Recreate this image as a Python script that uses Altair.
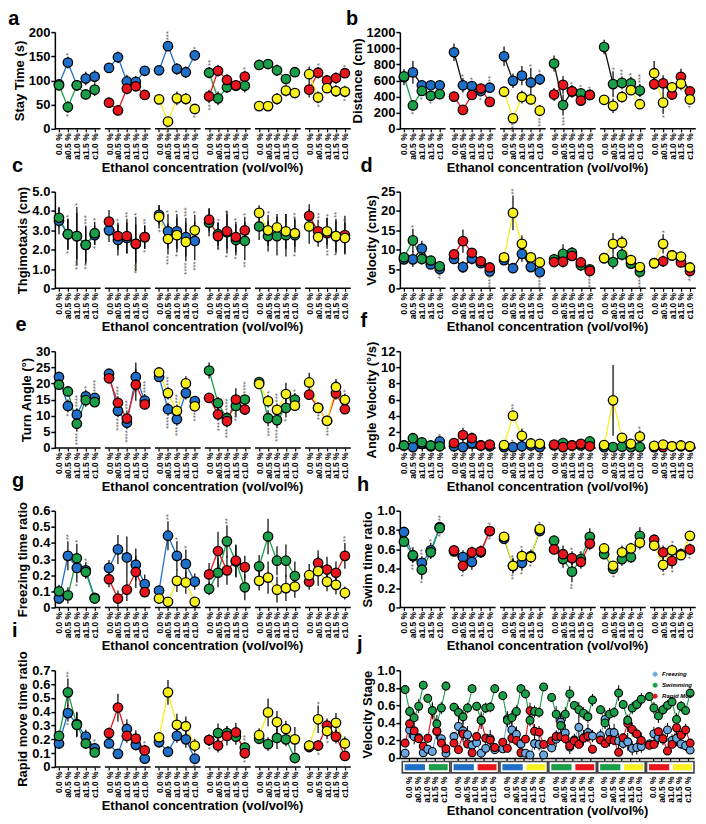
import altair as alt
import pandas as pd

FONT = "Liberation Sans"
CONC = ["0.0 %", "a0.5 %", "a1.0 %", "a1.5 %", "c1.0 %"]
COLORS = {"Blue": "#1f6fc9", "Green": "#1a9e48", "Red": "#e8161c", "Yellow": "#f7f01c"}
PAIRS = [("Blue", "Green"), ("Blue", "Red"), ("Blue", "Yellow"),
         ("Green", "Red"), ("Green", "Yellow"), ("Red", "Yellow")]
STAGES = ["Freezing", "Swimming", "Rapid Mov"]
STAGE_COLORS = ["#6aa6e0", "#1a9e48", "#e8161c"]
XTITLE = "Ethanol concentration (vol/vol%)"

# ---- a: Stay Time (s)
stay_1 = [92, 137, 90, 104, 108, 126, 148, 98, 97, 120, 121, 171, 124, 117, 152,
          116, 63, 86, 89, 89, 132, 134, 121, 103, 117, 81, 116, 100, 105, 115]
stay_2 = [90, 45, 90, 71, 81, 54, 38, 83, 88, 70, 61, 15, 63, 62, 41,
          67, 120, 101, 90, 108, 47, 47, 62, 79, 74, 113, 65, 84, 78, 77]
stay_e1 = [8, 12, 10, 14, 13, 10, 12, 14, 12, 10, 8, 10, 12, 12, 10,
           12, 14, 12, 10, 14, 8, 10, 12, 10, 10, 16, 12, 10, 12, 10]
stay_e2 = [10, 12, 10, 10, 13, 10, 10, 12, 10, 10, 8, 8, 14, 12, 10,
           14, 12, 12, 10, 12, 6, 8, 12, 12, 10, 16, 12, 10, 12, 12]
stars_a = [(1, 0, "*", "u"), (1, 1, "*", "d"), (11, 0, "***", "u"), (11, 1, "***", "d"),
           (14, 0, "*", "u"), (14, 1, "*", "d"), (15, 0, "**", "u"), (15, 1, "**", "d"),
           (19, 1, "*", "u"), (26, 0, "*", "u"), (26, 1, "*", "d"), (29, 0, "*", "u"), (29, 1, "*", "d")]

# ---- b: Distance (cm)
dist_1 = [640, 700, 540, 540, 540, 950, 540, 530, 470, 510, 900, 595, 660, 575, 615,
          810, 295, 465, 440, 420, 1015, 555, 570, 565, 475, 555, 565, 425, 645, 465]
dist_2 = [650, 290, 470, 410, 430, 400, 235, 420, 500, 335, 460, 130, 395, 365, 225,
          425, 545, 465, 350, 420, 360, 285, 395, 480, 305, 690, 325, 515, 560, 365]
dist_e1 = [100, 140, 60, 50, 60, 110, 90, 60, 60, 60, 120, 90, 120, 180, 70,
           100, 130, 80, 60, 60, 90, 160, 80, 80, 80, 70, 100, 60, 100, 50]
dist_e2 = [60, 60, 60, 50, 60, 60, 60, 60, 60, 50, 40, 40, 80, 60, 70,
           80, 110, 70, 60, 60, 40, 90, 70, 60, 60, 150, 140, 60, 80, 60]
stars_b = [(1, 1, "*", "d"), (2, 1, "*", "d"), (3, 1, "*", "d"), (6, 0, "*", "u"), (7, 0, "*", "u"),
           (8, 1, "**", "d"), (9, 0, "**", "u"), (11, 1, "***", "d"), (13, 0, "*", "u"), (14, 0, "*", "u"),
           (14, 1, "***", "d"), (16, 0, "***", "d"), (17, 1, "*", "u"), (18, 0, "*", "u"), (19, 1, "*", "u"),
           (21, 0, "*", "u"), (22, 0, "**", "u"), (23, 0, "*", "u"), (24, 0, "***", "u"),
           (26, 1, "*", "d"), (29, 1, "*", "d")]

# ---- c: Thgimotaxis (cm)
thig_1 = [3.5, 2.8, 2.7, 2.25, 2.75, 3.0, 2.5, 2.6, 2.3, 2.65, 3.8, 2.95, 2.95, 2.65, 2.45,
          3.4, 2.8, 2.9, 2.5, 2.45, 3.2, 2.7, 2.7, 2.75, 2.75, 3.75, 2.95, 2.85, 2.7, 2.75]
thig_2 = [3.65, 2.8, 2.7, 2.25, 2.85, 3.45, 2.7, 2.7, 2.3, 2.65, 3.7, 2.55, 2.75, 2.4, 3.0,
          3.55, 2.7, 2.95, 2.65, 3.0, 3.9, 3.0, 3.15, 2.95, 2.85, 3.2, 2.65, 2.95, 2.7, 2.6]
thig_e1 = [0.7, 0.8, 1.2, 0.9, 0.5, 0.6, 0.8, 0.8, 1.0, 0.6, 0.5, 0.9, 0.9, 1.0, 1.0,
           0.7, 0.6, 1.1, 0.8, 1.0, 0.7, 0.8, 1.0, 1.1, 0.9, 0.6, 0.6, 0.8, 0.8, 1.0]
thig_e2 = [0.5, 0.8, 1.5, 1.0, 0.6, 0.6, 0.7, 0.9, 1.4, 0.6, 0.6, 0.8, 0.9, 1.0, 0.8,
           0.6, 0.7, 0.9, 0.8, 0.7, 0.4, 0.8, 0.7, 0.9, 0.7, 0.9, 0.5, 0.7, 0.9, 0.8]
stars_c = [(1, 1, "*", "u"), (1, 0, "*", "d"), (2, 1, "*", "u"), (2, 0, "***", "d"), (3, 1, "***", "u"),
           (3, 0, "**", "d"), (4, 1, "*", "u"), (4, 0, "*", "d"), (6, 1, "*", "u"), (7, 1, "**", "u"),
           (8, 1, "*", "u"), (8, 0, "***", "d"), (9, 1, "**", "u"), (9, 0, "*", "d"), (10, 1, "*", "d"),
           (11, 0, "*", "u"), (11, 1, "***", "d"), (12, 0, "*", "u"), (12, 1, "*", "d"), (13, 0, "***", "u"),
           (13, 1, "****", "d"), (14, 1, "*", "u"), (14, 0, "***", "d"), (16, 1, "*", "u"), (16, 0, "*", "d"),
           (17, 1, "*", "u"), (17, 0, "*", "d"), (18, 1, "*", "u"), (18, 0, "*", "d"), (19, 1, "*", "u"),
           (19, 0, "**", "d"), (21, 1, "*", "u"), (24, 1, "**", "u"), (24, 0, "*", "d"), (26, 0, "**", "u"),
           (27, 1, "*", "u"), (27, 0, "**", "d"), (28, 1, "**", "u"), (28, 0, "*", "d"), (29, 1, "*", "u")]

# ---- d: Velocity (cm/s)
vel_1 = [7.5, 7.5, 10.3, 6.2, 5.0, 7.6, 5.5, 7.7, 6.5, 4.4, 7.3, 5.2, 8.9, 5.5, 4.2,
         7.5, 8.9, 9.2, 6.0, 4.9, 7.8, 6.8, 8.7, 6.4, 4.3, 6.5, 7.0, 8.5, 6.7, 4.5]
vel_2 = [8.0, 12.4, 7.6, 7.2, 5.7, 8.8, 12.2, 9.2, 7.0, 5.4, 8.0, 19.5, 11.5, 8.0, 6.7,
         6.8, 6.9, 8.4, 6.7, 4.5, 7.8, 11.5, 11.8, 7.3, 5.5, 6.5, 11.5, 8.5, 8.2, 5.4]
vel_e1 = [1.0, 2.0, 2.0, 1.0, 0.8, 1.0, 1.5, 1.5, 1.0, 0.8, 1.0, 1.0, 2.0, 1.0, 0.8,
          1.0, 2.5, 1.5, 1.5, 0.8, 1.0, 1.8, 1.5, 1.0, 0.8, 0.8, 1.5, 1.2, 1.0, 0.8]
vel_e2 = [1.0, 3.0, 1.5, 1.0, 0.8, 1.2, 3.0, 1.2, 0.8, 0.8, 1.2, 4.5, 2.2, 1.0, 0.8,
          1.0, 1.5, 1.2, 1.2, 0.8, 1.0, 2.8, 1.8, 1.2, 1.0, 0.8, 2.5, 1.0, 1.0, 0.8]
stars_d = [(1, 1, "*", "u"), (4, 0, "**", "d"), (9, 0, "****", "d"), (11, 1, "**", "u"),
           (14, 0, "****", "d"), (19, 1, "****", "d"), (24, 0, "****", "d"), (26, 1, "*", "u"),
           (29, 0, "**", "d")]

# ---- e: Turn Angle
turn_1 = [22, 13, 10.3, 16, 15.5, 23, 11.5, 7.8, 22, 14.7, 22, 12, 8.9, 17, 14.5,
          24, 13.9, 9.2, 13, 15, 20.4, 9.2, 8.6, 12.4, 15, 16.5, 12.4, 8.4, 16.9, 12.0]
turn_2 = [19.6, 17.5, 7.5, 14.8, 14.2, 21.6, 14, 9.1, 19.6, 13.5, 23.4, 17, 11.5, 20, 12.9,
          15.5, 10.4, 8.3, 15, 11.9, 19.8, 14.5, 11.8, 16.7, 13.1, 20.3, 12.4, 8.4, 18.9, 14.9]
turn_e1 = [1.5, 2, 2, 2, 1.5, 1.5, 2, 2, 4.5, 2, 1.5, 2, 2, 2, 1.5,
           2.5, 2, 2, 3.5, 1.5, 1, 2.5, 2.5, 3, 2, 1.5, 1.5, 1.5, 2, 1.5]
turn_e2 = [1.5, 1.5, 2.5, 2, 1.5, 1.5, 2, 2.5, 5, 1.5, 1.5, 2, 2, 2.2, 1.5,
           1.5, 2, 2, 3.5, 1.5, 1.2, 2, 2, 3.5, 1.5, 3, 1.5, 1.5, 2.5, 2]
stars_e = [(1, 0, "*", "d"), (2, 0, "****", "u"), (2, 1, "****", "d"), (3, 0, "*", "u"), (4, 0, "****", "u"),
           (6, 1, "***", "u"), (6, 0, "****", "d"), (7, 1, "***", "u"), (7, 0, "****", "d"), (9, 0, "****", "u"),
           (11, 1, "***", "u"), (11, 0, "****", "d"), (12, 1, "***", "u"), (12, 0, "***", "d"), (14, 1, "***", "d"),
           (16, 1, "***", "d"), (17, 0, "****", "u"), (17, 1, "***", "d"), (18, 1, "***", "d"), (19, 0, "****", "u"),
           (21, 1, "*", "u"), (21, 0, "***", "d"), (22, 1, "***", "u"), (22, 0, "****", "d"), (23, 0, "*", "d"),
           (24, 0, "*", "u"), (26, 1, "**", "d"), (27, 1, "***", "d"), (29, 1, "*", "u")]

# ---- f: Angle Velocity
angv_1 = [0.3, 0.1, 0.5, 0.2, 0.8, 0.2, 0.1, 0.6, 0.3, 0.2, 0.1, 0.1, 0.2, 0.3, 0.1,
          0.3, 0.6, 0.3, 0.3, 0.8, 0.1, 0.1, 0.15, 0.1, 0.1, 0.1, 0.1, 0.2, 0.2, 0.15]
angv_2 = [0.3, 1.2, 0.7, 0.3, 0.2, 0.6, 1.6, 1.2, 0.3, 0.4, 0.35, 4.0, 1.5, 0.55, 0.5,
          0.4, 0.1, 0.3, 0.5, 0.2, 0.35, 5.9, 1.25, 0.5, 1.4, 0.25, 0.4, 0.2, 0.3, 0.2]
angv_e1 = [0.1, 0.1, 0.3, 0.1, 0.5, 0.1, 0.1, 0.4, 0.1, 0.1, 0.1, 0.1, 0.1, 0.1, 0.1,
           0.1, 0.3, 0.1, 0.1, 0.3, 0.05, 0.05, 0.05, 0.05, 0.05, 0.05, 0.05, 0.05, 0.05, 0.05]
angv_e2 = [0.1, 0.5, 0.5, 0.1, 0.1, 0.2, 0.9, 0.7, 0.1, 0.1, 0.1, 0.6, 0.9, 0.2, 0.1,
           0.1, 0.1, 0.1, 0.1, 0.1, 0.1, 4.4, 0.5, 0.1, 0.8, 0.1, 0.1, 0.1, 0.1, 0.1]
stars_f = [(4, 0, "*", "u"), (11, 1, "**", "u"), (11, 0, "**", "u"), (16, 0, "*", "u"), (24, 1, "*", "u")]

# ---- g: Freezing time ratio
frz_1 = [0.055, 0.32, 0.245, 0.23, 0.06, 0.245, 0.36, 0.31, 0.265, 0.145, 0.105, 0.445, 0.32, 0.27, 0.16,
         0.115, 0.215, 0.41, 0.285, 0.125, 0.255, 0.44, 0.29, 0.29, 0.195, 0.16, 0.275, 0.235, 0.215, 0.32]
frz_2 = [0.10, 0.075, 0.305, 0.22, 0.055, 0.175, 0.055, 0.11, 0.22, 0.095, 0.055, 0.035, 0.165, 0.155, 0.035,
         0.205, 0.35, 0.23, 0.29, 0.25, 0.165, 0.185, 0.11, 0.12, 0.13, 0.20, 0.225, 0.16, 0.14, 0.09]
frz_e1 = [0.02, 0.09, 0.09, 0.05, 0.02, 0.05, 0.09, 0.13, 0.1, 0.06, 0.03, 0.09, 0.09, 0.09, 0.05,
          0.04, 0.09, 0.1, 0.1, 0.08, 0.07, 0.11, 0.09, 0.1, 0.09, 0.05, 0.08, 0.08, 0.07, 0.08]
frz_e2 = [0.04, 0.05, 0.09, 0.04, 0.03, 0.05, 0.05, 0.07, 0.1, 0.03, 0.03, 0.03, 0.07, 0.07, 0.02,
          0.07, 0.12, 0.09, 0.1, 0.07, 0.06, 0.1, 0.08, 0.08, 0.07, 0.07, 0.09, 0.06, 0.06, 0.04]
stars_g = [(1, 0, "**", "u"), (2, 1, "*", "u"), (2, 0, "*", "d"), (3, 0, "*", "u"), (6, 1, "*", "d"),
           (11, 0, "**", "u"), (12, 0, "*", "u"), (13, 0, "*", "u"), (17, 0, "**", "u"), (29, 0, "**", "u")]

# ---- h: Swim time ratio
swim_1 = [0.78, 0.53, 0.46, 0.59, 0.83, 0.58, 0.52, 0.47, 0.57, 0.79, 0.71, 0.43, 0.46, 0.53, 0.79,
          0.69, 0.50, 0.37, 0.50, 0.73, 0.55, 0.40, 0.50, 0.52, 0.74, 0.70, 0.57, 0.48, 0.55, 0.60]
swim_2 = [0.68, 0.54, 0.39, 0.57, 0.82, 0.59, 0.43, 0.57, 0.58, 0.79, 0.73, 0.43, 0.53, 0.52, 0.81,
          0.60, 0.55, 0.51, 0.47, 0.66, 0.61, 0.43, 0.57, 0.61, 0.67, 0.64, 0.44, 0.59, 0.54, 0.74]
swim_e1 = [0.03, 0.06, 0.07, 0.08, 0.05, 0.05, 0.07, 0.08, 0.06, 0.05, 0.04, 0.08, 0.08, 0.07, 0.05,
           0.05, 0.09, 0.11, 0.08, 0.09, 0.05, 0.05, 0.07, 0.06, 0.09, 0.05, 0.07, 0.08, 0.06, 0.06]
swim_e2 = [0.04, 0.08, 0.1, 0.07, 0.05, 0.05, 0.07, 0.06, 0.06, 0.05, 0.03, 0.07, 0.07, 0.06, 0.04,
           0.05, 0.09, 0.07, 0.07, 0.07, 0.04, 0.05, 0.07, 0.06, 0.07, 0.05, 0.07, 0.06, 0.05, 0.04]
stars_h = [(1, 0, "*", "u"), (1, 1, "**", "d"), (2, 0, "**", "u"), (2, 1, "*", "d"), (3, 0, "*", "u"),
           (4, 0, "**", "u"), (4, 1, "*", "d"), (6, 1, "*", "d"), (9, 1, "*", "u"), (9, 1, "*", "d"),
           (11, 1, "*", "u"), (11, 1, "**", "d"), (12, 1, "*", "u"), (12, 0, "*", "d"), (13, 1, "*", "d"),
           (14, 1, "*", "u"), (17, 1, "*", "u"), (17, 0, "**", "d"), (18, 1, "*", "u"), (21, 0, "*", "d"),
           (26, 1, "*", "d"), (27, 1, "*", "u"), (27, 0, "*", "d"), (29, 0, "*", "d")]

# ---- i: Rapid move time ratio
rap_1 = [0.17, 0.39, 0.31, 0.22, 0.135, 0.17, 0.095, 0.275, 0.16, 0.06, 0.18, 0.11, 0.225, 0.20, 0.06,
         0.195, 0.245, 0.245, 0.22, 0.14, 0.205, 0.165, 0.21, 0.20, 0.065, 0.145, 0.155, 0.30, 0.22, 0.08]
rap_2 = [0.225, 0.54, 0.305, 0.17, 0.105, 0.245, 0.43, 0.225, 0.205, 0.12, 0.215, 0.54, 0.305, 0.295, 0.155,
         0.195, 0.155, 0.225, 0.25, 0.10, 0.23, 0.395, 0.325, 0.275, 0.20, 0.155, 0.345, 0.26, 0.32, 0.17]
rap_e1 = [0.04, 0.06, 0.09, 0.05, 0.04, 0.03, 0.03, 0.07, 0.04, 0.03, 0.04, 0.04, 0.05, 0.06, 0.03,
          0.04, 0.07, 0.05, 0.06, 0.04, 0.04, 0.05, 0.08, 0.05, 0.04, 0.04, 0.04, 0.05, 0.05, 0.03]
rap_e2 = [0.03, 0.1, 0.09, 0.04, 0.03, 0.04, 0.1, 0.05, 0.06, 0.04, 0.03, 0.09, 0.08, 0.07, 0.05,
          0.04, 0.05, 0.07, 0.07, 0.04, 0.05, 0.1, 0.08, 0.06, 0.09, 0.04, 0.1, 0.06, 0.07, 0.05]
stars_i = [(1, 1, "**", "u"), (1, 0, "*", "d"), (4, 0, "*", "u"), (9, 1, "*", "u"), (14, 0, "*", "d"),
           (15, 0, "*", "d"), (19, 0, "**", "u"), (19, 1, "*", "d"), (26, 1, "*", "u"), (26, 0, "*", "d"),
           (27, 1, "*", "d")]

# ---------------------------------------------------------------- layout helpers
GW, ST = 28, 5
XDOM = [-2.3, 5 * GW + 4 * ST + 2.3]
XDOM_J = [-4.0, 5 * GW + 4 * ST + 4.6]
PW, PH = 295, 97
LABEL_EXPR = "[" + ",".join("'%s'" % c for c in CONC) + "][floor((datum.value %% %d) / %d)]" % (GW, ST)


def x_axis(j=False):
    vals = [g * GW + i * ST + (1 if j else 0) for g in range(6) for i in range(5)]
    return alt.Axis(values=vals, labelExpr=LABEL_EXPR, labelAngle=270, labelAlign="right",
                    labelBaseline="middle", labelOverlap=False, labelFlush=False, labelBound=False,
                    domain=j, domainColor="black", domainWidth=1.3,
                    ticks=True, tickSize=3, tickColor="black", tickWidth=1.2, grid=False,
                    labelFontSize=8.5, labelFontWeight="bold", labelColor="black",
                    labelPadding=(15 if j else 1), title=XTITLE, titleFontSize=13,
                    titleFontWeight="bold", titleColor="black", titlePadding=2)


def y_axis(title, ymax, step, dec):
    n = int(round(ymax / step))
    vals = [round(k * step, 3) for k in range(n + 1)]
    expr = "format(datum.value, 'd')" if dec == 0 else "datum.value == 0 ? '0' : format(datum.value, '.1f')"
    return alt.Axis(values=vals, labelExpr=expr, title=title, grid=False, domainColor="black",
                    domainWidth=1.5, ticks=True, tickSize=4, tickColor="black", tickWidth=1.5,
                    labelOverlap=False, labelFontSize=13, labelFontWeight="bold", labelColor="black",
                    labelPadding=1, titleFontSize=13, titleFontWeight="bold", titleColor="black",
                    titlePadding=2)


def letter_title(letter, off):
    return alt.TitleParams(text=letter, anchor="start", frame="bounds", fontSize=20,
                           fontWeight="bold", color="black", offset=off, dx=-5, font=FONT)


def panel(letter, ytitle, v1, v2, e1, e2, stars, ymax, step, dec, black_first=False, toff=10):
    rows = []
    for g, (c1, c2) in enumerate(PAIRS):
        for s, (vals, errs, cname) in enumerate([(v1, e1, c1), (v2, e2, c2)]):
            for i in range(5):
                k = g * 5 + i
                v, e = vals[k], errs[k]
                rows.append(dict(x=g * GW + i * ST, v=v, lo=max(v - e, 0), hi=v + e,
                                 key="%d-%d" % (g, s), fill=COLORS[cname],
                                 line=("#111111" if (black_first and s == 0) else COLORS[cname])))
    df = pd.DataFrame(rows)

    srows = []
    for k, s, txt, d in stars:
        vals, errs = (v1, e1) if s == 0 else (v2, e2)
        v, e = vals[k], errs[k]
        srows.append(dict(x=(k // 5) * GW + (k % 5) * ST, y=(v + e if d == "u" else max(v - e, 0)),
                          txt=txt, d=d))
    sdf = pd.DataFrame(srows)

    seg = pd.DataFrame({"x0": [g * GW - 2.3 for g in range(6)],
                        "x1": [g * GW + 4 * ST + 3.3 for g in range(6)],
                        "y0": [0] * 6})

    xs = alt.Scale(domain=XDOM, nice=False, zero=False)
    ys = alt.Scale(domain=[0, ymax], nice=False)
    xa = x_axis()
    ya = y_axis(ytitle, ymax, step, dec)

    lines = alt.Chart(df).mark_line(strokeWidth=1.3).encode(
        x=alt.X("x:Q", scale=xs, axis=xa), y=alt.Y("v:Q", scale=ys, axis=ya),
        detail="key:N", stroke=alt.Stroke("line:N", scale=None))
    seg_l = alt.Chart(seg).mark_rule(color="black", strokeWidth=1.5).encode(
        x=alt.X("x0:Q", scale=xs, axis=xa), x2="x1:Q", y=alt.Y("y0:Q", scale=ys, axis=ya))
    errs_l = alt.Chart(df).mark_rule(color="black", strokeWidth=1.2).encode(
        x=alt.X("x:Q", scale=xs, axis=xa), y=alt.Y("lo:Q", scale=ys, axis=ya), y2="hi:Q")
    pts = alt.Chart(df).mark_circle(size=90, stroke="black", strokeWidth=1.3, opacity=1).encode(
        x=alt.X("x:Q", scale=xs, axis=xa), y=alt.Y("v:Q", scale=ys, axis=ya),
        fill=alt.Fill("fill:N", scale=None))
    up = alt.Chart(sdf).transform_filter("datum.d == 'u'").mark_text(
        angle=270, align="left", baseline="middle", fontSize=8, color="#555555", yOffset=-1, xOffset=1.5,
        font=FONT).encode(x=alt.X("x:Q", scale=xs, axis=xa), y=alt.Y("y:Q", scale=ys, axis=ya), text="txt:N")
    dn = alt.Chart(sdf).transform_filter("datum.d == 'd'").mark_text(
        angle=270, align="right", baseline="middle", fontSize=8, color="#555555", yOffset=1, xOffset=1.5,
        font=FONT).encode(x=alt.X("x:Q", scale=xs, axis=xa), y=alt.Y("y:Q", scale=ys, axis=ya), text="txt:N")
    return alt.layer(lines, seg_l, errs_l, pts, up, dn).properties(
        width=PW, height=PH, title=letter_title(letter, toff))


def panel_j(toff=10):
    series = {"Freezing": (frz_1, frz_2, frz_e1, frz_e2),
              "Swimming": (swim_1, swim_2, swim_e1, swim_e2),
              "Rapid Mov": (rap_1, rap_2, rap_e1, rap_e2)}
    rows = []
    for g in range(6):
        for s in range(2):
            for i in range(5):
                k = g * 5 + i
                for stage in ["Freezing", "Rapid Mov", "Swimming"]:
                    a1, a2, b1, b2 = series[stage]
                    v = (a1 if s == 0 else a2)[k]
                    e = (b1 if s == 0 else b2)[k]
                    rows.append(dict(x=g * GW - 1 + (s * 5 + i) * 2.6, v=v, lo=max(v - e, 0), hi=v + e,
                                     stage=stage, key="%d-%d-%s" % (g, s, stage)))
    df = pd.DataFrame(rows)

    frames = pd.DataFrame({"x0": [g * GW - 2.6 for g in range(6)],
                           "x1": [g * GW + 24.6 for g in range(6)],
                           "y0": [-0.04] * 6, "y1": [-0.17] * 6})
    brow = []
    for g, (c1, c2) in enumerate(PAIRS):
        brow.append(dict(x0=g * GW - 1.2, x1=g * GW + 10.4, col=COLORS[c1]))
        brow.append(dict(x0=g * GW + 12.6, x1=g * GW + 23.4, col=COLORS[c2]))
    bars = pd.DataFrame(brow)
    bars["y0"] = -0.07
    bars["y1"] = -0.14

    xs = alt.Scale(domain=XDOM_J, nice=False, zero=False)
    ys = alt.Scale(domain=[0, 1.0], nice=False)
    xa = x_axis(True)
    ya = y_axis("Velocity Stage", 1.0, 0.2, 1)
    sscale = alt.Scale(domain=STAGES, range=STAGE_COLORS)
    legend = alt.Legend(orient="top-right", title=None, labelFontSize=6, labelFontStyle="italic",
                        labelFontWeight="bold", labelFont=FONT, symbolSize=18, symbolStrokeWidth=0.8,
                        symbolType="circle", rowPadding=3, offset=1, padding=0)

    lines = alt.Chart(df).mark_line(strokeWidth=1.1).encode(
        x=alt.X("x:Q", scale=xs, axis=xa), y=alt.Y("v:Q", scale=ys, axis=ya),
        detail="key:N", color=alt.Color("stage:N", scale=sscale, legend=legend))
    fr = alt.Chart(frames).mark_rect(fill="white", stroke="#444444", strokeWidth=1.6).encode(
        x=alt.X("x0:Q", scale=xs, axis=xa), x2="x1:Q", y=alt.Y("y0:Q", scale=ys, axis=ya), y2="y1:Q")
    br = alt.Chart(bars).mark_rect().encode(
        x=alt.X("x0:Q", scale=xs, axis=xa), x2="x1:Q", y=alt.Y("y0:Q", scale=ys, axis=ya), y2="y1:Q",
        fill=alt.Fill("col:N", scale=None))
    errs_l = alt.Chart(df).mark_rule(color="black", strokeWidth=1.0).encode(
        x=alt.X("x:Q", scale=xs, axis=xa), y=alt.Y("lo:Q", scale=ys, axis=ya), y2="hi:Q")
    pts = alt.Chart(df).mark_circle(size=62, stroke="black", strokeWidth=1.1, opacity=1).encode(
        x=alt.X("x:Q", scale=xs, axis=xa), y=alt.Y("v:Q", scale=ys, axis=ya),
        color=alt.Color("stage:N", scale=sscale, legend=legend))
    return alt.layer(lines, fr, br, errs_l, pts).properties(
        width=PW, height=88, title=letter_title("j", toff))


pa = panel("a", "Stay Time (s)", stay_1, stay_2, stay_e1, stay_e2, stars_a, 200, 50, 0, toff=-3)
pb = panel("b", "Distance (cm)", dist_1, dist_2, dist_e1, dist_e2, stars_b, 1200, 200, 0, black_first=True, toff=-3)
pc = panel("c", "Thgimotaxis (cm)", thig_1, thig_2, thig_e1, thig_e2, stars_c, 5.0, 1.0, 1)
pd_ = panel("d", "Velocity (cm/s)", vel_1, vel_2, vel_e1, vel_e2, stars_d, 25, 5, 0, black_first=True)
pe = panel("e", "Turn Angle (°)", turn_1, turn_2, turn_e1, turn_e2, stars_e, 30, 5, 0)
pf = panel("f", "Angle Velocity (°/s)", angv_1, angv_2, angv_e1, angv_e2, stars_f, 12, 2, 0)
pg = panel("g", "Freezing time ratio", frz_1, frz_2, frz_e1, frz_e2, stars_g, 0.6, 0.1, 1)
ph = panel("h", "Swim time ratio", swim_1, swim_2, swim_e1, swim_e2, stars_h, 1.0, 0.2, 1)
pi = panel("i", "Rapid move time ratio", rap_1, rap_2, rap_e1, rap_e2, stars_i, 0.7, 0.1, 1)
pj = panel_j()

chart = alt.concat(pa, pb, pc, pd_, pe, pf, pg, ph, pi, pj, columns=2, bounds="flush",
                   spacing={"row": 63, "column": 51}).resolve_scale(
    fill="independent", stroke="independent", color="independent").resolve_legend(
    fill="independent", stroke="independent", color="independent").properties(padding=0).configure(
    font=FONT).configure_view(stroke=None).configure_axis(labelFont=FONT, titleFont=FONT)

chart.save("out.html", embed_options={"renderer": "svg", "actions": False})
